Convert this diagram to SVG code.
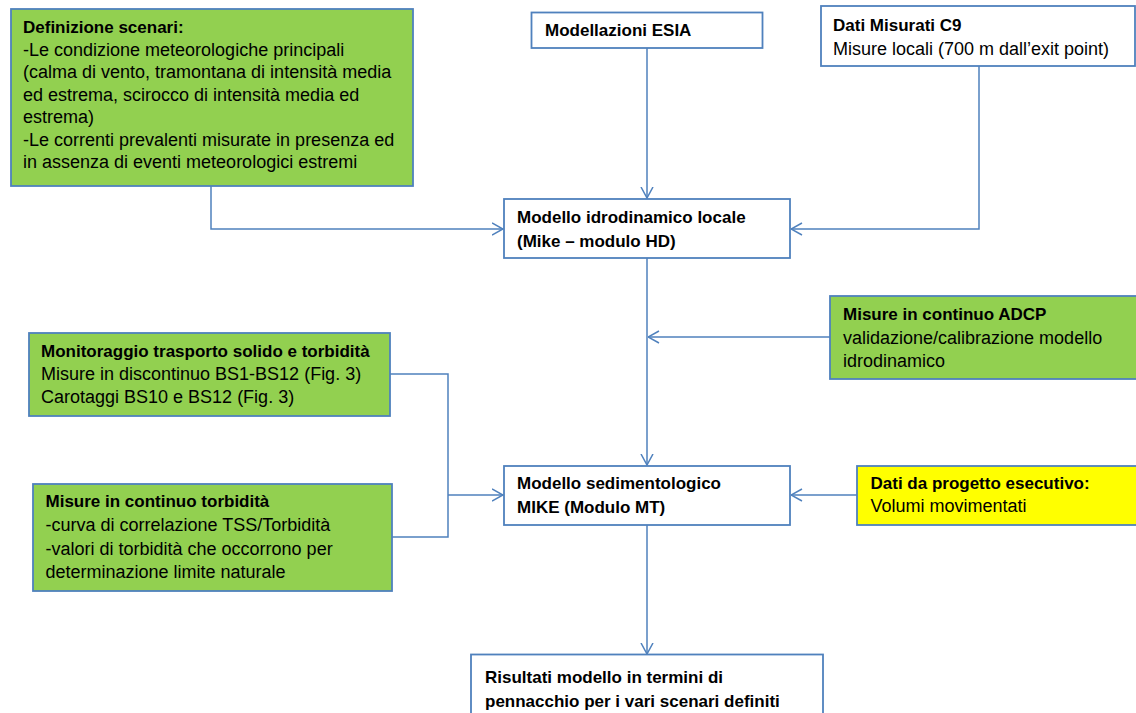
<svg xmlns="http://www.w3.org/2000/svg" width="1136" height="713" viewBox="0 0 1136 713">
<style>
.box{stroke:#4F81BD;stroke-width:1.8}
.w{fill:#FFFFFF}
.g{fill:#92D050}
.y{fill:#FFFF00}
text{font-family:"Liberation Sans",Arial,sans-serif;fill:#000000}
.b{font-weight:bold;font-size:17px}
.r{font-size:18px}
.c{fill:none;stroke:#4F81BD;stroke-width:1.5}
</style>
<defs>
<marker id="ah" viewBox="0 0 12 14" refX="11.5" refY="7" markerWidth="12" markerHeight="14" markerUnits="userSpaceOnUse" orient="auto">
<path d="M0.5,1 L11.5,7 L0.5,13" fill="none" stroke="#4F81BD" stroke-width="1.5"/>
</marker>
</defs>
<rect width="1136" height="713" fill="#FFFFFF"/>
<g id="connectors">
<path class="c" d="M647,48 V198" marker-end="url(#ah)"/>
<path class="c" d="M211,186 V229 H503" marker-end="url(#ah)"/>
<path class="c" d="M979,66 V229 H791" marker-end="url(#ah)"/>
<path class="c" d="M647,258 V465" marker-end="url(#ah)"/>
<path class="c" d="M830,337 H648" marker-end="url(#ah)"/>
<path class="c" d="M390,374 H448 V537 H392"/>
<path class="c" d="M448,495 H503" marker-end="url(#ah)"/>
<path class="c" d="M857,495 H791" marker-end="url(#ah)"/>
<path class="c" d="M647,525 V654" marker-end="url(#ah)"/>
</g>
<g id="definizione">
<rect class="box g" x="11" y="9" width="402" height="177"/>
<text x="23" y="33" class="b">Definizione scenari:</text>
<text x="23" y="55.5" class="r">-Le condizione meteorologiche principali</text>
<text x="23" y="78" class="r">(calma di vento, tramontana di intensità media</text>
<text x="23" y="100.5" class="r">ed estrema, scirocco di intensità media ed</text>
<text x="23" y="123" class="r">estrema)</text>
<text x="23" y="145.5" class="r">-Le correnti prevalenti misurate in presenza ed</text>
<text x="23" y="168" class="r">in assenza di eventi meteorologici estremi</text>
</g>
<g id="esia">
<rect class="box w" x="531.5" y="12.5" width="231" height="35.5"/>
<text x="545" y="36" class="b">Modellazioni ESIA</text>
</g>
<g id="dati-c9">
<rect class="box w" x="821" y="6" width="314" height="60"/>
<text x="833" y="30.5" class="b">Dati Misurati C9</text>
<text x="833" y="55" class="r">Misure locali (700 m dall’exit point)</text>
</g>
<g id="idrodinamico">
<rect class="box w" x="504" y="199" width="286" height="59"/>
<text x="517" y="223" class="b">Modello idrodinamico  locale</text>
<text x="517" y="246.5" class="b">(Mike – modulo HD)</text>
</g>
<g id="adcp">
<rect class="box g" x="830" y="296" width="312" height="83"/>
<text x="843" y="319.5" class="b">Misure in continuo  ADCP</text>
<text x="843" y="343.5" class="r">validazione/calibrazione modello</text>
<text x="843" y="366.5" class="r">idrodinamico</text>
</g>
<g id="monitoraggio">
<rect class="box g" x="29" y="333" width="361" height="83"/>
<text x="41" y="356.5" class="b">Monitoraggio  trasporto solido  e torbidità</text>
<text x="41" y="380" class="r">Misure in discontinuo BS1-BS12 (Fig. 3)</text>
<text x="41" y="403" class="r">Carotaggi BS10 e BS12 (Fig. 3)</text>
</g>
<g id="torbidita">
<rect class="box g" x="33" y="484" width="359" height="107"/>
<text x="45.5" y="507" class="b">Misure in continuo  torbidità</text>
<text x="45.5" y="531" class="r">-curva di correlazione TSS/Torbidità</text>
<text x="45.5" y="554.5" class="r">-valori di torbidità che occorrono per</text>
<text x="45.5" y="578" class="r">determinazione limite naturale</text>
</g>
<g id="sedimentologico">
<rect class="box w" x="504" y="466" width="286" height="59"/>
<text x="517" y="489" class="b">Modello sedimentologico</text>
<text x="517" y="512.5" class="b">MIKE (Modulo  MT)</text>
</g>
<g id="progetto">
<rect class="box y" x="857" y="466" width="285" height="59"/>
<text x="870.5" y="488.5" class="b">Dati da progetto esecutivo:</text>
<text x="870.5" y="512" class="r">Volumi movimentati</text>
</g>
<g id="risultati">
<rect class="box w" x="471" y="654.5" width="352" height="70"/>
<text x="485" y="683" class="b">Risultati modello  in termini di</text>
<text x="485" y="706.5" class="b">pennacchio  per i vari scenari definiti</text>
</g>
</svg>
